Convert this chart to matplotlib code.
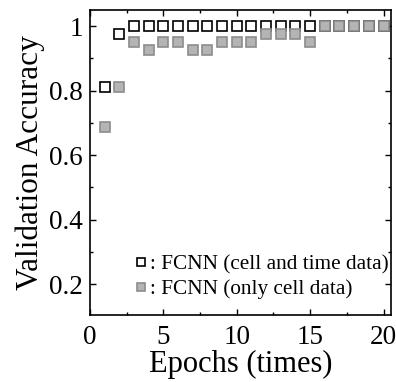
import numpy as np
import matplotlib
matplotlib.use("Agg")
import matplotlib.pyplot as plt
from matplotlib.ticker import MultipleLocator, FuncFormatter

epochs = list(range(1, 21))
acc_cell_time = [0.8125, 0.975, 1.0, 1.0, 1.0, 1.0, 1.0, 1.0, 1.0, 1.0,
                 1.0, 1.0, 1.0, 1.0, 1.0, 1.0, 1.0, 1.0, 1.0, 1.0]
acc_cell_only = [0.6875, 0.8125, 0.95, 0.925, 0.95, 0.95, 0.925, 0.925, 0.95, 0.95,
                 0.95, 0.975, 0.975, 0.975, 0.95, 1.0, 1.0, 1.0, 1.0, 1.0]

plt.rcParams['font.family'] = ['Liberation Serif', 'DejaVu Serif']

fig = plt.figure(figsize=(3.96, 3.82), dpi=100)
ax = fig.add_axes([0.227, 0.175, 0.760, 0.799])

ax.plot(epochs, acc_cell_time, 's', ms=7, mfc='white', mec='black', mew=1.2,
        label=': FCNN (cell and time data)')
ax.plot(epochs, acc_cell_only, 's', ms=7, mfc='#b4b4b4', mec='#8c8c8c', mew=1.2,
        label=': FCNN (only cell data)')

ax.set_xlim(0, 20.5)
ax.set_ylim(0.104, 1.05)
ax.xaxis.set_major_locator(MultipleLocator(5))
ax.xaxis.set_minor_locator(MultipleLocator(2.5))
ax.yaxis.set_major_locator(MultipleLocator(0.2))
ax.yaxis.set_minor_locator(MultipleLocator(0.1))
ax.yaxis.set_major_formatter(FuncFormatter(lambda v, p: '1' if abs(v - 1) < 1e-9 else '%.1f' % v))
ax.tick_params(which='both', direction='in', top=True, right=True, width=1)
ax.tick_params(which='major', length=4, labelsize=19.5)
ax.tick_params(axis='x', which='major', pad=7)
ax.tick_params(axis='y', which='major', pad=5)
ax.tick_params(which='minor', length=2.5)
for s in ax.spines.values():
    s.set_linewidth(1.2)

ax.set_xlabel('Epochs (times)', fontsize=22, labelpad=0)
ax.set_ylabel('Validation Accuracy', fontsize=22.5, labelpad=3)

ax.legend(loc='lower right', bbox_to_anchor=(1.02, 0.025), frameon=False,
          fontsize=15.3, handlelength=0.5, handletextpad=0.15, borderaxespad=0.0,
          labelspacing=0.2, markerscale=0.8)

fig.savefig('out.png', dpi=100)
